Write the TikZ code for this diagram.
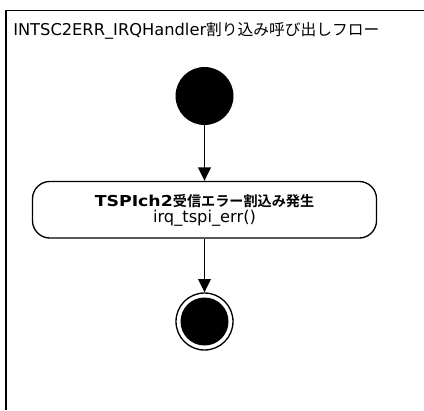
\documentclass[tikz,border=0pt]{standalone}
\usepackage{fontspec}
\setmainfont{DejaVu Sans}
\newfontfamily\cjk{Noto Sans CJK JP}[BoldFont={Noto Sans CJK JP Bold}]
\newfontfamily\latwide{DejaVu Sans}[FakeStretch=1.15]
\usetikzlibrary{arrows.meta}
\begin{document}
\begin{tikzpicture}[x=0.75pt,y=-0.75pt,
  frame/.style={line width=1.3pt},
  flow/.style={line width=1.1pt,-{Triangle[length=10pt,width=9.5pt]}},
  startnode/.style={circle,fill=black,minimum size=43.5pt,inner sep=0pt},
  actbox/.style={draw,line width=1pt,rounded corners=13pt,minimum width=258pt,minimum height=42.4pt},
  endouter/.style={circle,draw,line width=1pt,minimum size=42.75pt,inner sep=0pt},
  endinner/.style={circle,fill=black,minimum size=36pt,inner sep=0pt},
  txt/.style={inner sep=0pt}]
\useasboundingbox (0,0) rectangle (424,410);
\fill[white] (0,0) rectangle (424,410);
\draw[frame] (424,10.5) -- (5.8,10.5) -- (5.8,410);
\node[txt,anchor=base west,font=\fontsize{12.2pt}{14pt}\selectfont] (title) at (13,35.5)
  {INTSC2ERR\_IRQHandler{\cjk\fontsize{11.8pt}{14pt}\selectfont 割り込み呼び出しフロー}};
\node[startnode] (start) at (204.5,96) {};
\node[actbox] (act) at (204.5,209.75) {};
\node[txt,anchor=base] (actname) at (204.5,206.5)
  {\fontsize{11.3pt}{13pt}\selectfont\latwide\bfseries TSPIch2{\cjk\fontsize{10.6pt}{13pt}\selectfont\bfseries 受信エラー割込み発生}};
\node[txt,anchor=base,font=\fontsize{12.2pt}{13pt}\selectfont] (actfunc) at (204.5,222) {irq\_tspi\_err()};
\node[endouter] (end) at (204.5,321.5) {};
\node[endinner] (endin) at (end.center) {};
\draw[flow] (start) -- (act);
\draw[flow] (act) -- (end);
\end{tikzpicture}
\end{document}
